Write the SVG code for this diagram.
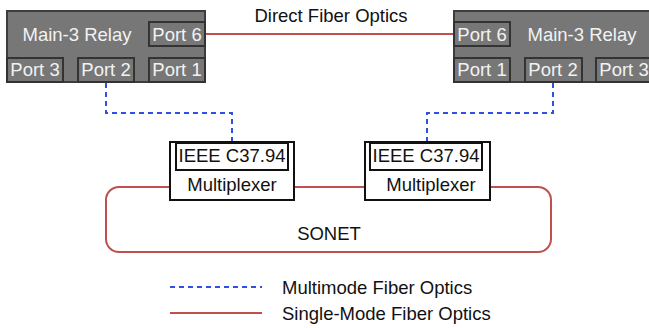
<svg xmlns="http://www.w3.org/2000/svg" width="649" height="328" viewBox="0 0 649 328">
<style>
text{font-family:"Liberation Sans",Arial,sans-serif;font-size:18.5px}
.relay{fill:#777777;stroke:#3d3d3d;stroke-width:2}
.port{fill:#777777;stroke:#333333;stroke-width:2}
.lt{fill:#f2f2f2}
.dk{fill:#111111}
.mm{fill:none;stroke:#3050e0;stroke-width:2;stroke-dasharray:5,4}
.sm{fill:none;stroke:#c0504d;stroke-width:2}
.box{fill:#ffffff;stroke:#111111;stroke-width:2}
</style>
<rect width="649" height="328" fill="#ffffff"/>
<g id="connectors">
<line class="sm" x1="205" y1="34" x2="454" y2="34"/>
<rect class="sm" x="106" y="187" width="445" height="65" rx="13"/>
<polyline class="mm" points="106,83 106,113 232,113 232,142"/>
<polyline class="mm" points="553,83 553,113 427,113 427,142"/>
</g>
<text class="dk" x="331" y="22" text-anchor="middle">Direct Fiber Optics</text>
<g id="relay-left">
<rect class="relay" x="7" y="11" width="198" height="71"/>
<text class="lt" x="77" y="41" text-anchor="middle">Main-3 Relay</text>
<rect class="port" x="149" y="22" width="56" height="24"/>
<text class="lt" x="177" y="41" text-anchor="middle">Port 6</text>
<rect class="port" x="7" y="58" width="56" height="24"/>
<text class="lt" x="35" y="76" text-anchor="middle">Port 3</text>
<rect class="port" x="78" y="58" width="56" height="24"/>
<text class="lt" x="106" y="76" text-anchor="middle">Port 2</text>
<rect class="port" x="149" y="58" width="56" height="24"/>
<text class="lt" x="177" y="76" text-anchor="middle">Port 1</text>
</g>
<g id="relay-right">
<rect class="relay" x="454" y="11" width="198" height="71"/>
<text class="lt" x="582" y="41" text-anchor="middle">Main-3 Relay</text>
<rect class="port" x="454" y="22" width="56" height="24"/>
<text class="lt" x="482" y="41" text-anchor="middle">Port 6</text>
<rect class="port" x="454" y="58" width="56" height="24"/>
<text class="lt" x="482" y="76" text-anchor="middle">Port 1</text>
<rect class="port" x="525" y="58" width="57" height="24"/>
<text class="lt" x="553" y="76" text-anchor="middle">Port 2</text>
<rect class="port" x="596" y="58" width="56" height="24"/>
<text class="lt" x="624" y="76" text-anchor="middle">Port 3</text>
</g>
<g id="mux-left">
<rect class="box" x="170" y="142" width="124" height="58"/>
<rect class="box" x="176" y="143" width="112" height="27"/>
<text class="dk" x="232" y="162" text-anchor="middle">IEEE C37.94</text>
<text class="dk" x="232" y="191" text-anchor="middle">Multiplexer</text>
</g>
<g id="mux-right">
<rect class="box" x="365" y="142" width="125" height="58"/>
<rect class="box" x="370" y="143" width="112" height="27"/>
<text class="dk" x="426" y="162" text-anchor="middle">IEEE C37.94</text>
<text class="dk" x="431" y="191" text-anchor="middle">Multiplexer</text>
</g>
<g id="sonet">
<text class="dk" x="329" y="240" text-anchor="middle">SONET</text>
</g>
<g id="legend">
<line class="mm" x1="170" y1="287" x2="262" y2="287"/>
<text class="dk" x="282" y="294">Multimode Fiber Optics</text>
<line class="sm" x1="170" y1="313" x2="262" y2="313"/>
<text class="dk" x="282" y="320">Single-Mode Fiber Optics</text>
</g>
</svg>
